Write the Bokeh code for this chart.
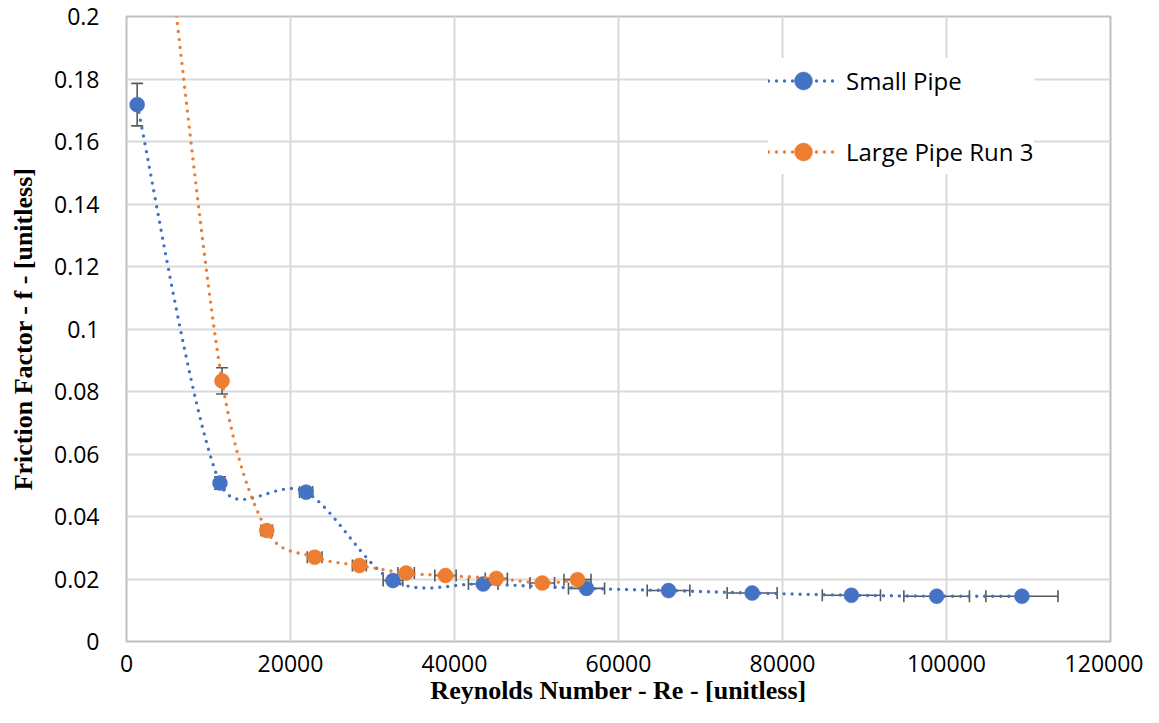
import numpy as np
from bokeh.plotting import figure
from bokeh.models import (ColumnDataSource, Whisker, TeeHead, Legend, LegendItem,
                          CustomJSTickFormatter, FixedTicker, Range1d)
from bokeh.embed import file_html
from bokeh.resources import INLINE

# ---------------- data ----------------
small_re = [1300, 11400, 21900, 32500, 43500, 56100, 66100, 76300, 88400, 98800, 109200]
small_f = [0.1718, 0.0507, 0.0478, 0.0195, 0.0184, 0.0170, 0.0163, 0.0155, 0.0148, 0.0145, 0.0145]
small_re_err = [50, 420, 800, 1200, 1800, 2200, 2600, 3050, 3550, 4000, 4400]
small_f_err = [0.0068, 0.0020, 0.0010, 0.0008, 0.0007, 0.0007, 0.0006, 0.0006, 0.0006, 0.0005, 0.0005]

large_re = [5300, 11650, 17100, 22950, 28400, 34100, 38900, 45100, 50700, 55000]
large_f = [0.218, 0.0834, 0.0355, 0.0270, 0.0243, 0.0219, 0.0211, 0.0202, 0.0187, 0.0198]
large_re_err = [200, 470, 700, 900, 850, 1000, 1300, 1350, 1500, 1650]
large_f_err = [0.008, 0.0042, 0.0012, 0.0009, 0.0008, 0.0008, 0.0007, 0.0007, 0.0007, 0.0007]

x_ticks = [0, 20000, 40000, 60000, 80000, 100000, 120000]
y_ticks = [0, 0.02, 0.04, 0.06, 0.08, 0.1, 0.12, 0.14, 0.16, 0.18, 0.2]

series_names = ["Small Pipe", "Large Pipe Run 3"]
BLUE = "#4472C4"
ORANGE = "#ED7D31"
ERR = "#595959"

X_MAX = 120000
Y_MAX = 0.2
FRAME_W = 984
FRAME_H = 626
SX = FRAME_W / X_MAX
SY = FRAME_H / Y_MAX


def smooth_segments(xs, ys):
    """Excel-like smoothed line: cubic Bezier control points (computed in screen scale)."""
    P = np.column_stack([np.asarray(xs, float) * SX, np.asarray(ys, float) * SY])
    n = len(P)
    out = {k: [] for k in ["x0", "y0", "x1", "y1", "cx0", "cy0", "cx1", "cy1"]}
    for i in range(n - 1):
        p0 = P[i - 1] if i > 0 else P[i]
        p1 = P[i]
        p2 = P[i + 1]
        p3 = P[i + 2] if i + 2 < n else P[i + 1]
        d12 = np.linalg.norm(p2 - p1)
        d02 = np.linalg.norm(p2 - p0)
        d13 = np.linalg.norm(p3 - p1)
        f0 = 1 / 6 if d02 / 6 < d12 / 2 else (d12 / 2 / d02 if d02 > 0 else 0)
        f1 = 1 / 6 if d13 / 6 < d12 / 2 else (d12 / 2 / d13 if d13 > 0 else 0)
        c0 = p1 + (p2 - p0) * f0
        c1 = p2 - (p3 - p1) * f1
        out["x0"].append(p1[0] / SX); out["y0"].append(p1[1] / SY)
        out["x1"].append(p2[0] / SX); out["y1"].append(p2[1] / SY)
        out["cx0"].append(c0[0] / SX); out["cy0"].append(c0[1] / SY)
        out["cx1"].append(c1[0] / SX); out["cy1"].append(c1[1] / SY)
    return out


p = figure(width=1143, height=707, output_backend="svg", toolbar_location=None,
           x_range=Range1d(0, X_MAX), y_range=Range1d(0, Y_MAX),
           min_border_left=126, min_border_right=33, min_border_top=16, min_border_bottom=65,
           background_fill_color="white", border_fill_color="white")

p.outline_line_color = "#bfbfbf"
p.outline_line_width = 2

for ax in (p.xaxis[0], p.yaxis[0]):
    ax.axis_line_color = None
    ax.major_tick_line_color = None
    ax.minor_tick_line_color = None
    ax.major_tick_out = 0
    ax.major_tick_in = 0
    ax.minor_tick_out = 0
    ax.major_label_text_font = "Open Sans"
    ax.major_label_text_font_size = "23px"
    ax.major_label_text_color = "#000000"
    ax.axis_label_text_font = "Liberation Serif"
    ax.axis_label_text_font_style = "bold"
    ax.axis_label_text_font_size = "26px"
    ax.axis_label_text_color = "#000000"
    ax.formatter = CustomJSTickFormatter(code="return (Math.round(tick*1e6)/1e6).toString();")

p.xaxis[0].ticker = FixedTicker(ticks=x_ticks)
p.yaxis[0].ticker = FixedTicker(ticks=y_ticks)
p.xaxis[0].major_label_standoff = 13
p.yaxis[0].major_label_standoff = 27
p.xaxis[0].axis_label_standoff = 1
p.yaxis[0].axis_label_standoff = 13
p.xaxis[0].axis_label = "Reynolds Number - Re - [unitless]"
p.yaxis[0].axis_label = "Friction Factor - f - [unitless]"

p.xgrid[0].ticker = FixedTicker(ticks=x_ticks)
p.ygrid[0].ticker = FixedTicker(ticks=y_ticks)
for g in (p.xgrid[0], p.ygrid[0]):
    g.grid_line_color = "#d9d9d9"
    g.grid_line_width = 2

legend_items = []
for name, xs, ys, xe, ye, col in [
        (series_names[0], small_re, small_f, small_re_err, small_f_err, BLUE),
        (series_names[1], large_re, large_f, large_re_err, large_f_err, ORANGE)]:
    xs_a = np.asarray(xs, float); ys_a = np.asarray(ys, float)
    xe_a = np.asarray(xe, float); ye_a = np.asarray(ye, float)
    src = ColumnDataSource(dict(x=xs_a, y=ys_a, xlo=xs_a - xe_a, xhi=xs_a + xe_a,
                                ylo=ys_a - ye_a, yhi=ys_a + ye_a))
    # smoothed dotted line
    seg = ColumnDataSource(smooth_segments(xs, ys))
    r_line = p.bezier(x0="x0", y0="y0", x1="x1", y1="y1", cx0="cx0", cy0="cy0", cx1="cx1", cy1="cy1",
                      source=seg, line_color=col, line_width=3.4, line_dash="0 8", line_cap="round")
    # error bars
    for dim, base, lo, hi in [("height", "x", "ylo", "yhi"), ("width", "y", "xlo", "xhi")]:
        w = Whisker(source=src, base=base, lower=lo, upper=hi, dimension=dim,
                    line_color=ERR, line_width=1.6, level="underlay",
                    upper_head=TeeHead(size=12, line_color=ERR, line_width=1.6),
                    lower_head=TeeHead(size=12, line_color=ERR, line_width=1.6))
        p.add_layout(w)
    # markers
    r_pts = p.scatter(x="x", y="y", source=src, size=15, fill_color=col, line_color=col, line_width=0.5)
    legend_items.append(LegendItem(label=name, renderers=[r_line, r_pts], index=0))

legend = Legend(items=legend_items, location=(642, 467), orientation="vertical",
                background_fill_color="white", background_fill_alpha=1.0,
                border_line_color=None, padding=12, spacing=26, margin=0,
                glyph_width=70, glyph_height=45, label_height=45, label_standoff=8,
                label_text_font="Open Sans", label_text_font_size="24px",
                label_text_color="#000000")
p.add_layout(legend, "center")

open("out.html", "w").write(file_html(p, INLINE))
